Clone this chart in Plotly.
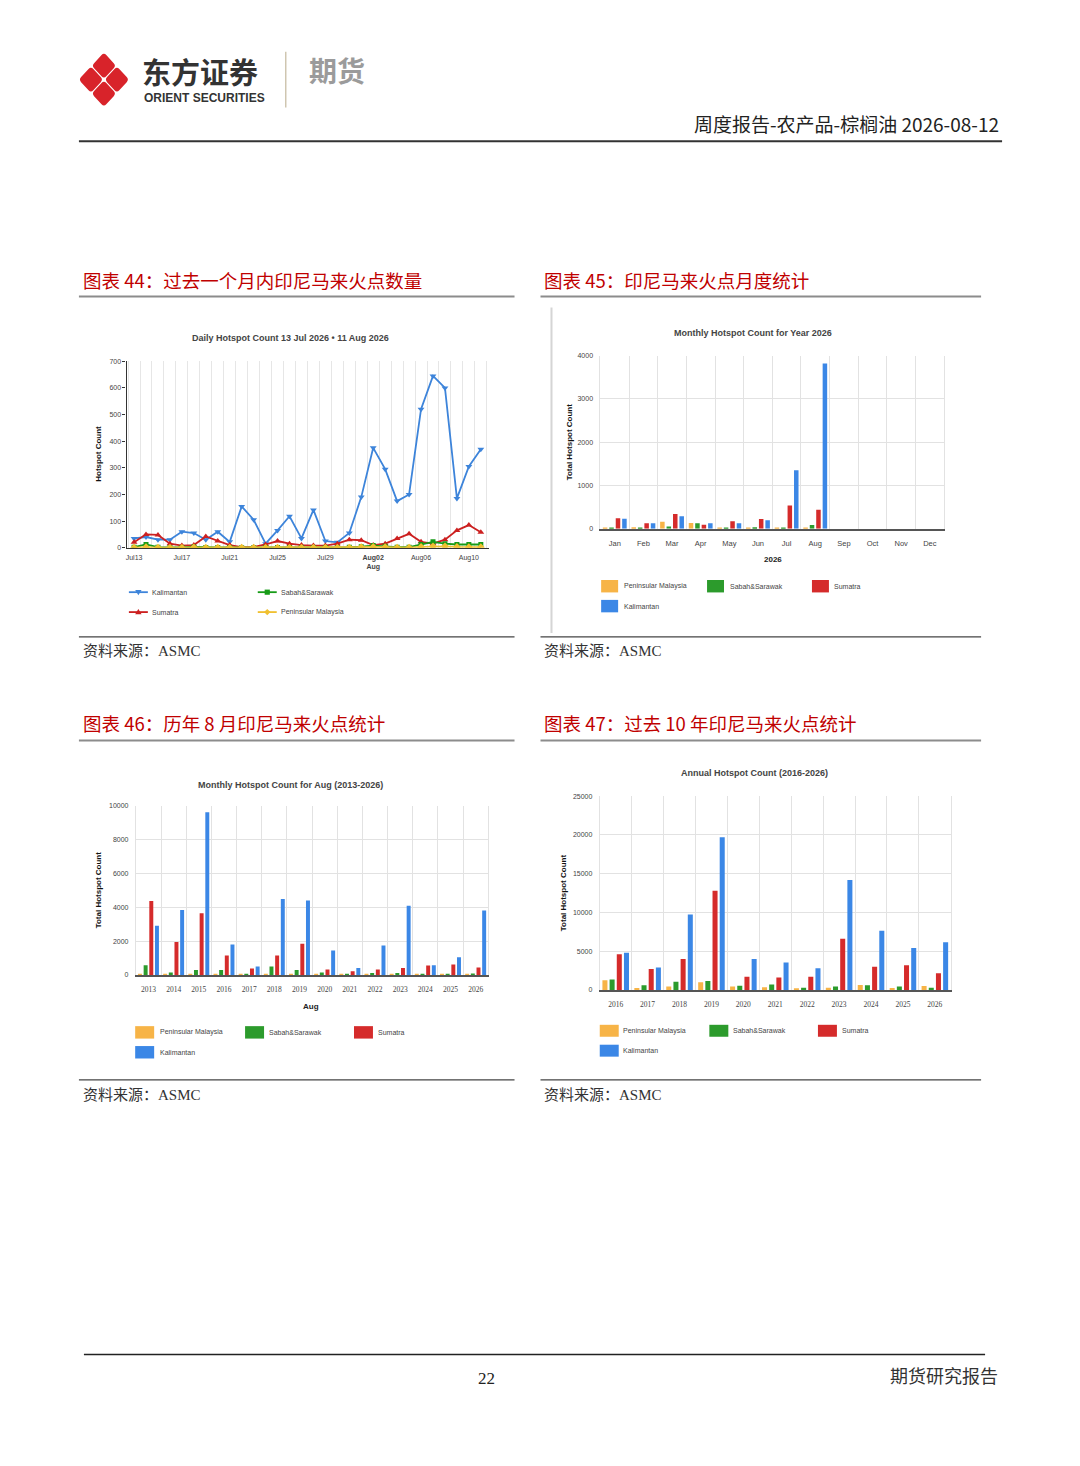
import plotly.graph_objects as go
import pandas as pd

W, H = 1080, 1466

# ---- data: figure 44, daily hotspots 13 Jul - 11 Aug 2026
days = pd.date_range('2026-07-13', '2026-08-11').strftime('%Y-%m-%d').tolist()
kal_daily = [35, 40, 30, 30, 60, 55, 30, 60, 22, 155, 105, 15, 65, 118, 35,
             142, 25, 20, 55, 190, 375, 295, 175, 200, 520, 645, 600, 185, 305, 370]
sum_daily = [20, 50, 48, 15, 8, 10, 42, 25, 10, 2, 3, 12, 25, 15, 10,
             8, 8, 15, 30, 28, 10, 15, 35, 52, 22, 15, 30, 65, 85, 58]
sab_daily = [2, 12, 2, 1, 1, 3, 1, 1, 1, 0, 0, 1, 1, 1, 1,
             1, 1, 1, 2, 4, 8, 5, 2, 2, 12, 22, 15, 12, 12, 12]
pen_daily = [0, 2, 0, 0, 0, 1, 0, 0, 0, 0, 0, 0, 0, 0, 0,
             0, 0, 0, 0, 2, 3, 2, 0, 0, 3, 5, 5, 3, 2, 2]
day_ticks = ['2026-07-13', '2026-07-17', '2026-07-21', '2026-07-25',
             '2026-07-29', '2026-08-02', '2026-08-06', '2026-08-10']
day_ticktext = ['Jul13', 'Jul17', 'Jul21', 'Jul25', 'Jul29',
                '<b>Aug02</b><br><b>Aug</b>', 'Aug06', 'Aug10']

# ---- figure 45, monthly 2026
months = ['Jan', 'Feb', 'Mar', 'Apr', 'May', 'Jun', 'Jul', 'Aug', 'Sep', 'Oct', 'Nov', 'Dec']
pen_month = [25, 35, 160, 135, 25, 30, 15, 15, 0, 0, 0, 0]
sab_month = [10, 5, 55, 125, 25, 35, 25, 90, 0, 0, 0, 0]
sum_month = [245, 130, 340, 95, 175, 225, 540, 440, 0, 0, 0, 0]
kal_month = [230, 125, 290, 125, 125, 195, 1350, 3820, 0, 0, 0, 0]

# ---- figure 46, August of each year
aug_years = ['2013', '2014', '2015', '2016', '2017', '2018', '2019',
             '2020', '2021', '2022', '2023', '2024', '2025', '2026']
pen_aug = [50, 40, 50, 20, 20, 60, 40, 20, 20, 30, 30, 20, 20, 20]
sab_aug = [580, 150, 300, 300, 60, 500, 300, 150, 60, 120, 120, 30, 50, 90]
sum_aug = [4380, 1950, 3650, 1150, 380, 1150, 1850, 320, 220, 320, 420, 560, 620, 440]
kal_aug = [2920, 3850, 9620, 1800, 500, 4500, 4400, 1450, 420, 1750, 4100, 580, 1050, 3820]

# ---- figure 47, annual
years = ['2016', '2017', '2018', '2019', '2020', '2021', '2022', '2023', '2024', '2025', '2026']
pen_year = [1250, 250, 450, 1000, 450, 350, 150, 300, 650, 250, 500]
sab_year = [1350, 600, 1050, 1150, 550, 700, 300, 450, 600, 450, 300]
sum_year = [4600, 2700, 4000, 12800, 1700, 1600, 1700, 6600, 3000, 3200, 2150]
kal_year = [4800, 2900, 9750, 19700, 4000, 3550, 2800, 14200, 7650, 5400, 6150]

regions = ['Peninsular Malaysia', 'Sabah&Sarawak', 'Sumatra', 'Kalimantan']
bar_colors = ['#f7b447', '#2c9b2c', '#d52b2b', '#3b87e6']
line_colors = {'Kalimantan': '#3d84da', 'Sumatra': '#cc2020',
               'Sabah&Sarawak': '#179b17', 'Peninsular Malaysia': '#f0c030'}

NARROW = 'Liberation Sans Narrow, Liberation Sans, Arial, sans-serif'
SANS = 'Liberation Sans, Arial, sans-serif'
CJK = 'Noto Sans CJK SC, sans-serif'
SERIF_CJK = 'Liberation Serif, Noto Sans CJK SC, serif'
RED = '#c00000'


def X(p):
    return p / W


def Y(p):
    return 1 - p / H


shapes = []
annotations = []


def line_px(x0, y0, x1, y1, color, width):
    shapes.append(dict(type='line', xref='paper', yref='paper', x0=X(x0), y0=Y(y0),
                       x1=X(x1), y1=Y(y1), line=dict(color=color, width=width)))


def rect_px(x0, y0, x1, y1, color):
    shapes.append(dict(type='rect', xref='paper', yref='paper', x0=X(x0), y0=Y(y1),
                       x1=X(x1), y1=Y(y0), fillcolor=color, line_width=0))


def poly_px(pts, color, r=0.0):
    # polygon with rounded corners, pixel coords
    n = len(pts)
    segs = []
    for i in range(n):
        px, py = pts[i]
        ax, ay = pts[i - 1]
        bx, by = pts[(i + 1) % n]
        da = ((ax - px) ** 2 + (ay - py) ** 2) ** 0.5
        db = ((bx - px) ** 2 + (by - py) ** 2) ** 0.5
        pin = (px + r * (ax - px) / da, py + r * (ay - py) / da)
        pout = (px + r * (bx - px) / db, py + r * (by - py) / db)
        segs.append((pin, (px, py), pout))
    d = 'M %f,%f' % (X(segs[0][2][0]), Y(segs[0][2][1]))
    for i in range(1, n + 1):
        pin, v, pout = segs[i % n]
        d += ' L %f,%f Q %f,%f %f,%f' % (X(pin[0]), Y(pin[1]), X(v[0]), Y(v[1]), X(pout[0]), Y(pout[1]))
    d += ' Z'
    shapes.append(dict(type='path', xref='paper', yref='paper', path=d,
                       fillcolor=color, line_width=0))


def text_px(x, y, text, size, color='#333', family=CJK, xanchor='left', angle=0):
    annotations.append(dict(xref='paper', yref='paper', x=X(x), y=Y(y), text=text,
                            showarrow=False, xanchor=xanchor, yanchor='middle',
                            textangle=angle, font=dict(size=size, color=color, family=family)))


fig = go.Figure()

# ---- figure 44 lines
for name, vals, sym, size in [('Kalimantan', kal_daily, 'triangle-down', 6),
                              ('Sumatra', sum_daily, 'triangle-up', 6),
                              ('Sabah&Sarawak', sab_daily, 'square', 5),
                              ('Peninsular Malaysia', pen_daily, 'diamond', 6)]:
    fig.add_trace(go.Scatter(x=days, y=vals, name=name, mode='lines+markers',
                             line=dict(color=line_colors[name], width=1.8),
                             marker=dict(symbol=sym, size=size, color=line_colors[name]),
                             xaxis='x', yaxis='y', showlegend=False))

# ---- bar charts
bar_sets = [
    ('x2', 'y2', months, [pen_month, sab_month, sum_month, kal_month]),
    ('x3', 'y3', aug_years, [pen_aug, sab_aug, sum_aug, kal_aug]),
    ('x4', 'y4', years, [pen_year, sab_year, sum_year, kal_year]),
]
for xa, ya, cats, series in bar_sets:
    for name, vals, col in zip(regions, series, bar_colors):
        fig.add_trace(go.Bar(x=cats, y=vals, name=name, marker=dict(color=col, line_width=0),
                             xaxis=xa, yaxis=ya, showlegend=False))

tick_small = dict(size=7, color='#444', family=NARROW)

fig.update_layout(
    width=W, height=H, margin=dict(l=0, r=0, t=0, b=0),
    paper_bgcolor='white', plot_bgcolor='white',
    barmode='group', bargap=0.1, bargroupgap=0.3,
    showlegend=False,
    xaxis=dict(domain=[X(125.7), X(488)], anchor='y', type='date',
               range=['2026-07-12 09:00', '2026-08-11 15:30'],
               tickvals=day_ticks, ticktext=day_ticktext, tickfont=tick_small,
               showgrid=False, showline=True, linecolor='#333', linewidth=1.2,
               ticks='', ticklabelstandoff=3,
               minor=dict(tick0='2026-07-13 12:00', dtick=86400000, showgrid=True,
                          gridcolor='#e6e6e6', gridwidth=1, ticks='')),
    yaxis=dict(domain=[Y(546.3), Y(359)], anchor='x', range=[0, 700], dtick=100,
               showgrid=False, zeroline=False, showline=True, linecolor='#333', linewidth=1.2,
               ticks='outside', ticklen=3, tickcolor='#333', tickfont=tick_small,
               tickformat='d'),
)

bar_domains = {
    '2': ([600, 944], [353.3, 527.3], [0, 4000], 1000, NARROW),
    '3': ([135, 487.7], [805.7, 975.7], [0, 10000], 2000, SERIF_CJK),
    '4': ([599.3, 950.7], [796, 990.7], [0, 25000], 5000, SERIF_CJK),
}
for k, (xd, yd, yr, dt, xfam) in bar_domains.items():
    fig.update_layout(**{
        'xaxis' + k: dict(domain=[X(xd[0]), X(xd[1])], anchor='y' + k, type='category',
                          showgrid=True, gridcolor='#e2e2e2', tickson='boundaries', ticks='',
                          showline=True, linecolor='#555', linewidth=1.5,
                          tickfont=dict(size=7.5, color='#444', family=xfam),
                          ticklabelstandoff=6),
        'yaxis' + k: dict(domain=[Y(yd[1]), Y(yd[0])], anchor='x' + k, range=yr, dtick=dt,
                          showgrid=True, gridcolor='#e2e2e2', zeroline=False,
                          showline=True, linecolor='#e2e2e2', mirror=True, ticks='',
                          tickfont=tick_small, ticklabelstandoff=5, tickformat='d'),
    })

# ---- chart titles and axis titles
text_px(290, 336, '<b>Daily Hotspot Count 13 Jul 2026 • 11 Aug 2026</b>', 9, '#444', NARROW, 'center')
text_px(98, 452, '<b>Hotspot Count</b>', 8, '#111', SANS, 'center', -90)
text_px(753, 331, '<b>Monthly Hotspot Count for Year 2026</b>', 9, '#444', NARROW, 'center')
text_px(569, 440, '<b>Total Hotspot Count</b>', 8, '#111', SANS, 'center', -90)
text_px(772.7, 558, '<b>2026</b>', 8, '#222', SANS, 'center')
text_px(290, 785, '<b>Monthly Hotspot Count for Aug (2013-2026)</b>', 9, '#444', NARROW, 'center')
text_px(97.7, 890, '<b>Total Hotspot Count</b>', 8, '#111', SANS, 'center', -90)
text_px(310, 1007, '<b>Aug</b>', 8, '#222', SANS, 'center')
text_px(754, 773, '<b>Annual Hotspot Count (2016-2026)</b>', 9, '#444', NARROW, 'center')
text_px(563, 893, '<b>Total Hotspot Count</b>', 8, '#111', SANS, 'center', -90)

# ---- legend for figure 44 (line + marker samples)
leg44 = [('Kalimantan', 128, 591, 'tri_down'), ('Sabah&Sarawak', 257, 591, 'square'),
         ('Sumatra', 128, 611, 'tri_up'), ('Peninsular Malaysia', 257, 611, 'diamond')]
for name, lx, ly, mk in leg44:
    c = line_colors[name]
    line_px(lx, ly, lx + 19, ly, c, 1.8)
    cx = lx + 9.5
    if mk == 'tri_down':
        poly_px([(cx - 3.2, ly - 2.2), (cx + 3.2, ly - 2.2), (cx, ly + 3)], c)
    elif mk == 'tri_up':
        poly_px([(cx - 3.2, ly + 2.2), (cx + 3.2, ly + 2.2), (cx, ly - 3)], c)
    elif mk == 'square':
        rect_px(cx - 2.6, ly - 2.6, cx + 2.6, ly + 2.6, c)
    else:
        poly_px([(cx, ly - 3.2), (cx + 3.2, ly), (cx, ly + 3.2), (cx - 3.2, ly)], c)
    text_px(lx + 21, ly, name, 7, '#444', NARROW)

# ---- legends for bar charts
bar_legends = [
    ([600.7, 706.7, 811.7], [585, 605], 17, 12.5, 20.5),
    ([134.3, 244.3, 353.3], [1033.3, 1053.3], 19, 12.5, 22.4),
    ([599.3, 709, 817.7], [1031.7, 1051.7], 19, 12, 21.7),
]
for xs, ys, sw, sh, toff in bar_legends:
    spots = [(xs[0], ys[0]), (xs[1], ys[0]), (xs[2], ys[0]), (xs[0], ys[1])]
    for (sx, sy), name, col in zip(spots, regions, bar_colors):
        rect_px(sx, sy - sh / 2, sx + sw, sy + sh / 2, col)
        text_px(sx + toff, sy, name, 7, '#444', NARROW)

# left border of the figure-45 image
line_px(551, 305, 551, 632, '#d5d5d5', 2)

# ---- page header
c0x, c0y = 103, 76
for dx, dy in [(0, -14), (13, 0), (0, 14), (-13, 0)]:
    cx, cy = c0x + dx, c0y + dy
    hw, hh = 12.2, 13.2
    poly_px([(cx, cy - hh), (cx + hw, cy), (cx, cy + hh), (cx - hw, cy)], '#d8232a', 3.5)
text_px(139, 67, '<b>东方证券</b>', 29, '#333', CJK)
text_px(141, 94, '<b>ORIENT SECURITIES</b>', 12, '#333', SANS)
line_px(285, 48, 285, 104, '#cfc6b0', 1.5)
text_px(306, 66, '<b>期货</b>', 28, '#9b9b9b', CJK)
text_px(1001, 120, '周度报告-农产品-棕榈油 2026-08-12', 19, '#222', CJK, 'right')
line_px(78, 138, 1002, 138, '#333', 2)

# ---- section titles, rules and sources
sections = [
    (80, 277, '图表 44：过去一个月内印尼马来火点数量', 78, 514, 294, 636, 650),
    (542, 277, '图表 45：印尼马来火点月度统计', 540, 981, 294, 636, 650),
    (80, 722, '图表 46：历年 8 月印尼马来火点统计', 78, 514, 740, 1081, 1096),
    (542, 722, '图表 47：过去 10 年印尼马来火点统计', 540, 981, 740, 1081, 1096),
]
for tx, ty, title, lx0, lx1, ly_top, ly_bot, sy in sections:
    text_px(tx, ty, title, 18.5, RED, CJK)
    line_px(lx0, ly_top, lx1, ly_top, '#8c8c8c', 2)
    line_px(lx0, ly_bot, lx1, ly_bot, '#444', 1.3)
    text_px(tx, sy, '资料来源：ASMC', 15, '#333', SERIF_CJK)

# ---- footer
line_px(83, 1357, 985, 1357, '#222', 1.5)
text_px(486, 1381, '22', 17, '#222', SERIF_CJK, 'center')
text_px(1000, 1380, '期货研究报告', 18, '#333', SERIF_CJK, 'right')

fig.update_layout(shapes=shapes, annotations=annotations)
fig.write_html("out.html", config={'displayModeBar': False},
               post_script="document.body.style.margin='0px';document.body.style.overflow='hidden';")
